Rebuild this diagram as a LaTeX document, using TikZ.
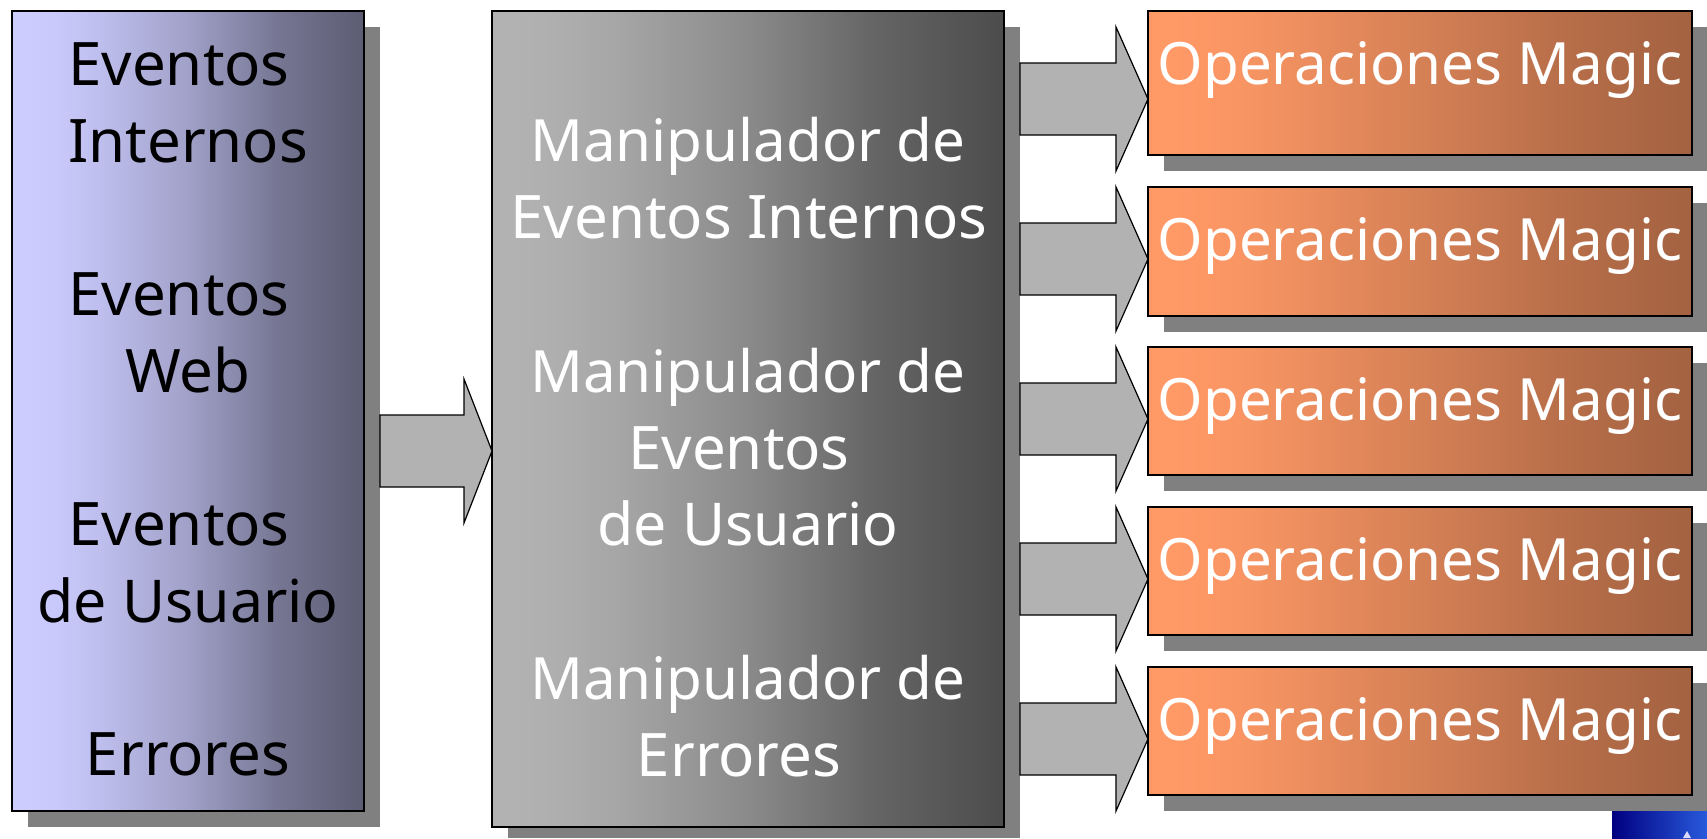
\documentclass[tikz,border=0pt]{standalone}
\usepackage{fontspec}
\setmainfont{Noto Sans}
\definecolor{shadowgray}{RGB}{128,128,128}
\definecolor{arrowgray}{RGB}{178,178,178}
\definecolor{lilacA}{RGB}{204,204,255}
\definecolor{lilacB}{RGB}{92,92,115}
\definecolor{greyA}{RGB}{178,178,178}
\definecolor{greyB}{RGB}{76,76,76}
\definecolor{orangeA}{RGB}{255,153,102}
\definecolor{orangeB}{RGB}{163,98,65}
\pgfdeclarehorizontalshading{lilacshade}{100bp}{color(0bp)=(lilacA); color(27bp)=(lilacA); color(31bp)=(lilacA!97!lilacB); color(37.5bp)=(lilacA!88!lilacB); color(50bp)=(lilacA!61!lilacB); color(62.5bp)=(lilacA!24!lilacB); color(75bp)=(lilacB); color(100bp)=(lilacB)}
\pgfdeclarehorizontalshading{greyshade}{100bp}{color(0bp)=(greyA); color(27bp)=(greyA); color(31bp)=(greyA!97!greyB); color(37.5bp)=(greyA!88!greyB); color(50bp)=(greyA!61!greyB); color(62.5bp)=(greyA!24!greyB); color(75bp)=(greyB); color(100bp)=(greyB)}
\pgfdeclarehorizontalshading{orangeshade}{100bp}{color(0bp)=(orangeA); color(27bp)=(orangeA); color(31bp)=(orangeA!97!orangeB); color(37.5bp)=(orangeA!84!orangeB); color(50bp)=(orangeA!55!orangeB); color(62.5bp)=(orangeA!24!orangeB); color(75bp)=(orangeB); color(100bp)=(orangeB)}
\tikzset{
  x=1pt,y=-1pt,
  shadowbox/.style={fill=shadowgray,draw=none},
  lilacbox/.style={draw=black,line width=1.5pt,shading=lilacshade},
  greybox/.style={draw=black,line width=1.5pt,shading=greyshade},
  orangebox/.style={draw=black,line width=1.5pt,shading=orangeshade},
  fatarrow/.style={draw=black,line width=1.2pt,fill=arrowgray,line join=miter},
  label/.style={font=\fontsize{60}{60}\selectfont,text=black,inner sep=0pt,anchor=base},
  whitelabel/.style={label,text=white},
  longlabel/.style={label,text=white,font=\fontsize{58.3}{60}\selectfont},
  midlabel/.style={label,font=\fontsize{59}{60}\selectfont}
}
\newcommand{\fatarr}[4]{%
  \draw[fatarrow] (#1,#4+36) -- (#2,#4+36) -- (#2,#4) -- (#3,#4+72) -- (#2,#4+144) -- (#2,#4+108) -- (#1,#4+108) -- cycle;}
\begin{document}
\begin{tikzpicture}
\useasboundingbox (0,0) rectangle (1707,838);
\fill[white] (0,0) rectangle (1707,838);
% thumbnail
\fill[left color={rgb,255:red,0;green,0;blue,128},right color={rgb,255:red,40;green,90;blue,220}] (1612,811) rectangle (1707,838);
\fill[white!85!blue] (1687,831) -- (1691,838) -- (1683,838) -- cycle;
% left
\fill[shadowbox] (28,27) rectangle (380,827);
\draw[lilacbox] (12,11) rectangle (364,811);
% middle
\fill[shadowbox] (508,27) rectangle (1020,838);
\draw[greybox] (492,11) rectangle (1004,827);
% right
\foreach \t/\b in {11/155,187/316,347/475,507/635,667/795}{
  \fill[shadowbox] (1164,\t+16) rectangle (1707,\b+16);
  \draw[orangebox] (1148,\t) rectangle (1692,\b);
}
% arrows
\fatarr{380}{464}{492}{379}
\fatarr{1020}{1116}{1148}{27}
\fatarr{1020}{1116}{1148}{187}
\fatarr{1020}{1116}{1148}{347}
\fatarr{1020}{1116}{1148}{507}
\fatarr{1020}{1116}{1148}{667}
% left texts
\node[label] (a1) at (179,85) {Eventos};
\node[label] (a2) at (188,162) {Internos};
\node[label] (a3) at (179,315) {Eventos};
\node[label] (a4) at (188,392) {Web};
\node[label] (a5) at (179,545) {Eventos};
\node[midlabel] (a6) at (188,622) {de Usuario};
\node[label] (a7) at (188,775) {Errores};
% middle texts
\node[longlabel] (b1) at (748,161) {Manipulador de};
\node[whitelabel] (b2) at (749,238) {Eventos Internos};
\node[longlabel] (b3) at (748,392) {Manipulador de};
\node[whitelabel] (b4) at (739,469) {Eventos};
\node[midlabel,text=white] (b5) at (748,545) {de Usuario};
\node[longlabel] (b6) at (748,699) {Manipulador de};
\node[whitelabel] (b7) at (739,776) {Errores};
% right texts
\node[longlabel] (c1) at (1420,84) {Operaciones Magic};
\node[longlabel] (c2) at (1420,260) {Operaciones Magic};
\node[longlabel] (c3) at (1420,420) {Operaciones Magic};
\node[longlabel] (c4) at (1420,580) {Operaciones Magic};
\node[longlabel] (c5) at (1420,740) {Operaciones Magic};
\end{tikzpicture}
\end{document}
